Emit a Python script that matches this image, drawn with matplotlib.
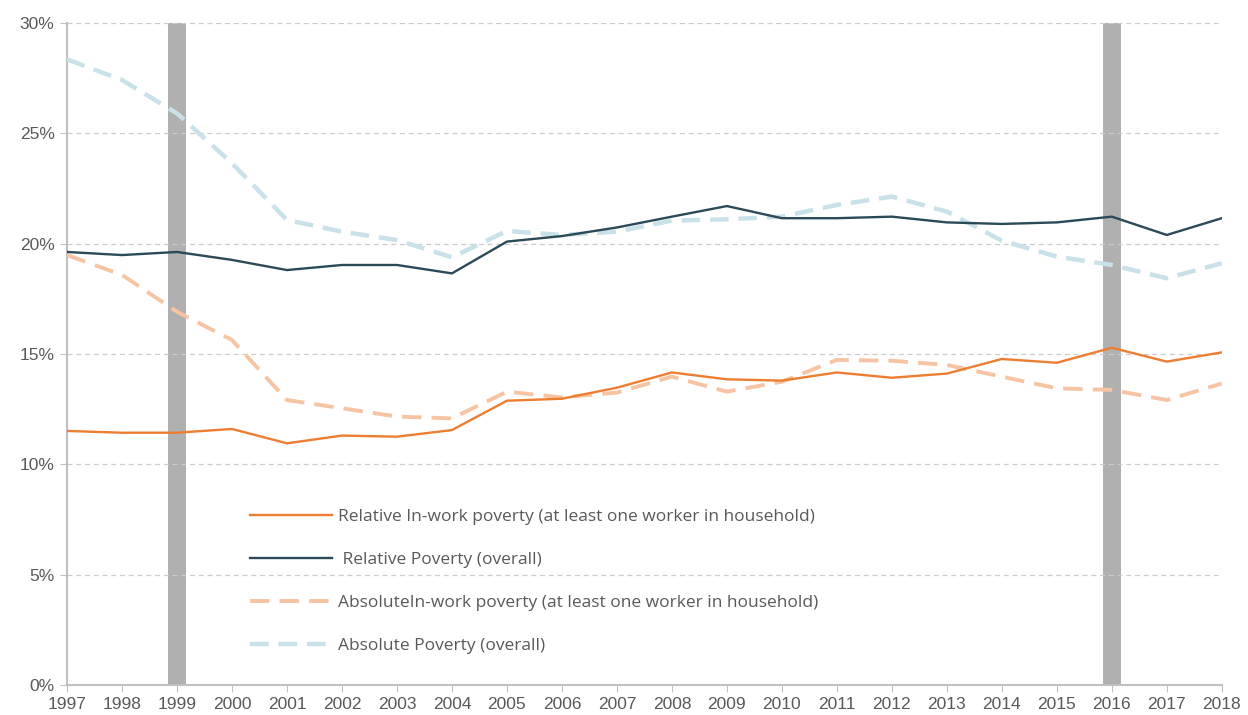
import numpy as np
import matplotlib
matplotlib.use("Agg")
import matplotlib.pyplot as plt
from matplotlib.ticker import PercentFormatter

years = list(range(1997, 2019))

rel_inwork = [11.51, 11.43, 11.43, 11.60, 10.95, 11.30, 11.25, 11.55, 12.88, 12.97, 13.47,
              14.16, 13.85, 13.79, 14.16, 13.92, 14.11, 14.77, 14.60, 15.28, 14.65, 15.07]
rel_overall = [19.62, 19.48, 19.62, 19.26, 18.80, 19.03, 19.03, 18.65, 20.09, 20.34, 20.73,
               21.22, 21.70, 21.15, 21.15, 21.22, 20.96, 20.89, 20.96, 21.22, 20.39, 21.15]
abs_inwork = [19.48, 18.58, 16.91, 15.63, 12.91, 12.54, 12.16, 12.08, 13.29, 13.03, 13.25,
              13.97, 13.29, 13.74, 14.73, 14.69, 14.50, 13.97, 13.44, 13.37, 12.91, 13.66]
abs_overall = [28.35, 27.41, 25.90, 23.64, 21.07, 20.54, 20.16, 19.38, 20.57, 20.39, 20.54,
               21.04, 21.10, 21.22, 21.75, 22.13, 21.45, 20.13, 19.41, 19.03, 18.43, 19.11]

highlight_years = [1999, 2016]

labels = ["Relative In-work poverty (at least one worker in household)",
          " Relative Poverty (overall)",
          "AbsoluteIn-work poverty (at least one worker in household)",
          "Absolute Poverty (overall)"]

plt.rcParams['font.family'] = ['Liberation Sans Narrow', 'Liberation Sans', 'DejaVu Sans']

fig = plt.figure(figsize=(12.48, 7.15), dpi=100)
ax = fig.add_axes([0.0537, 0.042, 0.9253, 0.926])

for yr in highlight_years:
    ax.axvspan(yr - 0.16, yr + 0.16, color="#b0b0b0", zorder=1, lw=0)

ax.plot(years, rel_inwork, color="#ED7D31", lw=1.7, zorder=4, label=labels[0])
ax.plot(years, rel_overall, color="#2B4A58", lw=1.7, zorder=4, label=labels[1])
ax.plot(years, abs_inwork, color="#F7C4A3", lw=2.8, dashes=(5.0, 2.6), zorder=3, label=labels[2])
ax.plot(years, abs_overall, color="#C9E1E8", lw=3.2, dashes=(4.2, 2.2), zorder=3, label=labels[3])

ax.set_xlim(1997, 2018)
ax.set_ylim(0, 30)
ax.set_xticks(years)
ax.set_yticks(np.arange(0, 31, 5))
ax.yaxis.set_major_formatter(PercentFormatter(100, decimals=0))
ax.grid(axis="y", color="#cccccc", ls=(0, (4, 3)), lw=0.9, zorder=0)

for s in ["top", "right"]:
    ax.spines[s].set_visible(False)
ax.spines["left"].set_color("#c0c0c0")
ax.spines["left"].set_linewidth(1.5)
ax.spines["bottom"].set_color("#c0c0c0")
ax.spines["bottom"].set_linewidth(1.5)
ax.tick_params(axis="both", colors="#c0c0c0", labelcolor="#595959", labelsize=12.5, length=5)
ax.tick_params(axis="y", pad=4)

leg = ax.legend(loc="upper left", bbox_to_anchor=(0.188, 0.31), bbox_transform=fig.transFigure,
                frameon=False, labelspacing=1.55, handlelength=4.7,
                handletextpad=0.35, prop={'family': ['Open Sans', 'DejaVu Sans'], 'size': 12.5})
for t in leg.get_texts():
    t.set_color("#595959")

fig.savefig("out.png", dpi=100)
